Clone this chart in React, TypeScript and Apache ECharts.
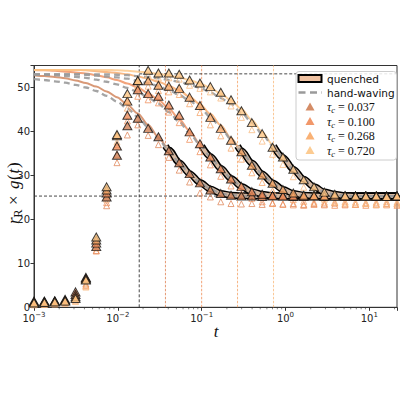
import React, { useEffect, useRef } from 'react';
import * as echarts from 'echarts';

// time grid (t values of the measured points)
const T = [0.001, 0.00133, 0.00177, 0.00235, 0.00313, 0.00416, 0.00553, 0.00735, 0.00977, 0.013,
  0.0173, 0.023, 0.0305, 0.0406, 0.054, 0.0718, 0.0954, 0.127, 0.169, 0.224,
  0.298, 0.397, 0.527, 0.701, 0.932, 1.24, 1.65, 2.19, 2.91, 3.87,
  5.14, 6.84, 9.09, 12.1, 16.1, 21.4];

const TAUS = [0.037, 0.1, 0.268, 0.72];
const TAU_LABELS = ['0.037', '0.100', '0.268', '0.720'];
const COLORS = ['#cf7f55', '#ef8c5a', '#f8a866', '#fcc585'];
const VLINE_COLORS = ['#e08a5e', '#f09462', '#f6a86e', '#f9bd84'];

// solid model lines
const LINE_037 = [52.8, 52.6, 52.4, 52.1, 51.6, 51.0, 50.2, 49.1, 47.8, 46.1, 44.1, 41.5, 38.7, 35.8, 32.9, 30.4, 28.4, 26.9, 25.9, 25.5, 25.4, 25.3, 25.3, 25.3, 25.3, 25.3, 25.3, 25.3, 25.3, 25.3, 25.3, 25.3, 25.3, 25.3, 25.3, 25.3];
const LINE_100 = [54.0, 53.9, 53.8, 53.6, 53.4, 53.2, 52.8, 52.3, 51.7, 50.9, 50.0, 48.7, 47.2, 45.2, 42.8, 40.1, 37.2, 34.3, 31.6, 29.3, 27.5, 26.3, 25.7, 25.4, 25.3, 25.3, 25.3, 25.3, 25.3, 25.3, 25.3, 25.3, 25.3, 25.3, 25.3, 25.3];
const LINE_268 = [54.0, 54.0, 54.0, 54.0, 54.0, 53.9, 53.7, 53.5, 53.3, 53.0, 52.5, 52.0, 51.3, 50.4, 49.3, 47.9, 46.2, 44.0, 41.4, 38.5, 35.6, 32.8, 30.3, 28.3, 26.8, 25.9, 25.5, 25.4, 25.3, 25.3, 25.3, 25.3, 25.3, 25.3, 25.3, 25.3];
const LINE_720 = [54.0, 54.0, 54.0, 54.0, 54.0, 54.0, 54.0, 54.0, 53.9, 53.8, 53.6, 53.4, 53.1, 52.7, 52.3, 51.7, 50.9, 49.9, 48.6, 47.1, 45.1, 42.6, 39.9, 37.0, 34.1, 31.4, 29.1, 27.4, 26.2, 25.7, 25.4, 25.3, 25.3, 25.3, 25.3, 25.3];

// hand-waving (gray dashed)
const HAND_037 = [51.9, 51.7, 51.4, 51.1, 50.6, 50.0, 49.2, 48.1, 46.8, 45.2, 43.3, 40.9, 38.3, 35.6, 32.9, 30.4, 28.4, 26.9, 25.9, 25.5, 25.4, 25.3, 25.3, 25.3, 25.3, 25.3, 25.3, 25.3, 25.3, 25.3, 25.3, 25.3, 25.3, 25.3, 25.3, 25.3];
const HAND_100 = [53.0, 52.9, 52.8, 52.6, 52.4, 52.2, 51.8, 51.3, 50.7, 49.9, 49.0, 47.7, 46.3, 44.4, 42.2, 39.6, 37.0, 34.3, 31.6, 29.3, 27.5, 26.3, 25.7, 25.4, 25.3, 25.3, 25.3, 25.3, 25.3, 25.3, 25.3, 25.3, 25.3, 25.3, 25.3, 25.3];
const HAND_268 = [53.0, 53.0, 53.0, 53.0, 53.0, 52.9, 52.7, 52.5, 52.3, 52.0, 51.5, 51.0, 50.3, 49.4, 48.3, 47.0, 45.4, 43.3, 40.9, 38.2, 35.5, 32.8, 30.3, 28.3, 26.8, 25.9, 25.5, 25.4, 25.3, 25.3, 25.3, 25.3, 25.3, 25.3, 25.3, 25.3];
const HAND_720 = [53.0, 53.0, 53.0, 53.0, 53.0, 53.0, 53.0, 53.0, 52.9, 52.8, 52.6, 52.4, 52.1, 51.7, 51.3, 50.7, 49.9, 48.9, 47.6, 46.2, 44.3, 42.0, 39.4, 36.8, 34.1, 31.4, 29.1, 27.4, 26.2, 25.7, 25.4, 25.3, 25.3, 25.3, 25.3, 25.3];

// measured (filled triangles)
const FILLED_037 = [1.4, 1.4, 1.5, 1.8, 3.5, 6.8, 13.8, 25.1, 34.6, 41.3, 43.0, 40.7, 38.8, 35.6, 32.9, 30.4, 28.3, 26.7, 25.9, 25.5, 25.3, 25.3, 25.2, 25.3, 25.3, 25.2, 25.3, 25.3, 25.2, 25.3, 25.3, 25.2, 25.3, 25.3, 25.3, 25.2];
const FILLED_100 = [1.2, 1.3, 1.4, 1.6, 2.9, 6.6, 14.6, 26.0, 36.7, 43.7, 49.5, 48.6, 48.0, 46.0, 43.7, 39.9, 37.2, 34.2, 31.5, 29.2, 27.5, 26.3, 25.7, 25.4, 25.3, 25.3, 25.2, 25.3, 25.3, 25.3, 25.2, 25.3, 25.3, 25.2, 25.3, 25.3];
const FILLED_268 = [1.1, 1.2, 1.3, 1.5, 2.4, 6.4, 15.3, 26.7, 39.0, 46.9, 51.5, 51.5, 50.5, 50.3, 49.8, 47.8, 45.9, 43.2, 40.7, 38.0, 35.4, 32.3, 30.1, 28.2, 26.8, 26.0, 25.5, 25.4, 25.3, 25.3, 25.2, 25.3, 25.3, 25.3, 25.2, 25.3];
const FILLED_720 = [1.0, 1.1, 1.2, 1.4, 2.0, 6.2, 16.0, 27.4, 39.3, 48.6, 51.6, 53.9, 53.3, 53.3, 53.0, 51.7, 51.0, 50.2, 48.9, 47.2, 44.7, 42.0, 39.5, 36.4, 34.2, 31.4, 29.0, 27.4, 26.2, 25.7, 25.4, 25.3, 25.3, 25.3, 25.2, 25.3];

// second estimator (hollow triangles)
const HOLLOW_037 = [0.8, 0.9, 1.0, 1.2, 2.4, 5.3, 12.9, 23.1, 32.9, 39.2, 41.5, 39.1, 37.0, 34.1, 31.2, 28.5, 26.0, 25.1, 24.0, 23.6, 23.5, 23.6, 23.4, 23.7, 23.5, 23.6, 23.4, 23.6, 23.5, 23.7, 23.5, 23.4, 23.6, 23.5, 23.6, 23.5];
const HOLLOW_100 = [0.7, 0.8, 0.9, 1.1, 2.0, 5.0, 12.8, 23.8, 34.8, 42.4, 48.0, 47.2, 46.5, 44.4, 42.0, 38.2, 35.4, 32.4, 29.8, 27.6, 25.9, 24.8, 24.0, 23.6, 23.4, 23.3, 23.2, 23.4, 23.3, 23.2, 23.3, 23.4, 23.2, 23.3, 23.3, 23.2];
const HOLLOW_268 = [0.6, 0.7, 0.8, 1.0, 1.6, 4.8, 13.5, 24.6, 37.0, 45.3, 50.2, 50.3, 49.3, 49.0, 48.4, 46.3, 44.3, 41.5, 39.0, 36.2, 33.7, 30.6, 28.4, 26.5, 25.2, 24.5, 24.1, 23.9, 23.9, 23.8, 24.0, 23.9, 23.8, 23.9, 24.0, 23.9];
const HOLLOW_720 = [0.6, 0.7, 0.8, 0.9, 1.3, 4.6, 14.2, 25.4, 37.6, 47.0, 50.4, 52.8, 52.2, 52.2, 51.9, 50.5, 49.8, 49.0, 47.6, 45.8, 43.2, 40.4, 37.8, 34.8, 32.5, 29.7, 27.3, 25.8, 24.6, 24.0, 23.7, 23.5, 23.6, 23.4, 23.5, 23.5];

const LINES = [LINE_037, LINE_100, LINE_268, LINE_720];
const HANDS = [HAND_037, HAND_100, HAND_268, HAND_720];
const FILLED = [FILLED_037, FILLED_100, FILLED_268, FILLED_720];
const HOLLOW = [HOLLOW_037, HOLLOW_100, HOLLOW_268, HOLLOW_720];

const QUENCH_START = 36.7;
const REF_T = 0.018;
const TOP_LEVEL = 53.1;
const PLATEAU = 25.3;
const X_MIN = 0.001;
const X_MAX = 21.4;
const Y_MAX = 55;
const Y_TICK = 10;
const MINOR_T = [0.002, 0.003, 0.004, 0.005, 0.006, 0.007, 0.008, 0.009, 0.02, 0.03, 0.04, 0.05, 0.06, 0.07, 0.08, 0.09, 0.2, 0.3, 0.4, 0.5, 0.6, 0.7, 0.8, 0.9, 2, 3, 4, 5, 6, 7, 8, 9, 20];

const MATH = "'Liberation Serif', 'DejaVu Serif', serif";
const SANS = "'DejaVu Sans', sans-serif";

function pairs(vals: number[]) {
  return T.map((t, i) => [t, vals[i]]);
}

export default function App() {
  const ref = useRef<HTMLDivElement>(null);
  useEffect(() => {
    if (!ref.current) return;
    const chart = echarts.init(ref.current, undefined, { renderer: 'svg' });
    const series: any[] = [];

    // reference dashed lines
    series.push({
      type: 'line', data: [[REF_T, 0], [REF_T, Y_MAX]], showSymbol: false, silent: true,
      lineStyle: { color: '#333', width: 0.9, type: [3, 2] }, z: 1,
    });
    TAUS.forEach((tau, i) => {
      series.push({
        type: 'line', data: [[tau, 0], [tau, Y_MAX]], showSymbol: false, silent: true,
        lineStyle: { color: VLINE_COLORS[i], width: 1, type: [2.5, 1.5], opacity: 0.85 }, z: 1,
      });
    });
    series.push({
      type: 'line', data: [[REF_T, TOP_LEVEL], [X_MAX, TOP_LEVEL]], showSymbol: false, silent: true,
      lineStyle: { color: '#333', width: 0.9, type: [3, 2] }, z: 1,
    });
    series.push({
      type: 'line', data: [[X_MIN, PLATEAU], [X_MAX, PLATEAU]], showSymbol: false, silent: true,
      lineStyle: { color: '#333', width: 0.9, type: [3, 2] }, z: 1,
    });

    // solid model lines
    LINES.forEach((vals, i) => {
      series.push({
        type: 'line', data: pairs(vals), showSymbol: false, smooth: 0.3, smoothMonotone: 'x', silent: true,
        lineStyle: { color: COLORS[i], width: 2, opacity: 0.8 }, z: 2,
      });
    });

    // quenched thick lines
    TAUS.forEach((tau, i) => {
      const q = [[tau, QUENCH_START], ...pairs(LINES[i]).filter((p) => p[0] > tau)];
      series.push({
        type: 'line', data: q, showSymbol: false, smooth: 0.3, smoothMonotone: 'x', silent: true,
        lineStyle: { color: '#000', width: 7 }, z: 3,
      });
      series.push({
        type: 'line', data: q, showSymbol: false, smooth: 0.3, smoothMonotone: 'x', silent: true,
        lineStyle: { color: '#d6b8a0', width: 4 }, z: 3,
      });
    });

    // hand-waving gray dashed
    HANDS.forEach((vals) => {
      series.push({
        type: 'line', data: pairs(vals), showSymbol: false, smooth: 0.3, smoothMonotone: 'x', silent: true,
        lineStyle: { color: '#9a9a9a', width: 2.3, type: [6, 4], opacity: 0.9 }, z: 4,
      });
    });

    // hollow triangles
    HOLLOW.forEach((vals, i) => {
      series.push({
        type: 'scatter', data: pairs(vals), symbol: 'triangle', symbolSize: [6, 6], silent: true,
        itemStyle: { color: 'rgba(0,0,0,0)', borderColor: VLINE_COLORS[i], borderWidth: 1 }, z: 5,
      });
    });
    // filled triangles
    FILLED.forEach((vals, i) => {
      series.push({
        type: 'scatter', data: pairs(vals), symbol: 'triangle', symbolSize: [9, 8], silent: true,
        itemStyle: { color: COLORS[i], borderColor: '#111', borderWidth: 1 }, z: 6,
      });
    });

    // minor ticks on log axis
    series.push({
      type: 'custom', silent: true, z: 7, clip: false,
      data: MINOR_T.filter((t) => t < X_MAX).map((t) => [t, 0]),
      renderItem: (params: any, api: any) => {
        const p = api.coord([api.value(0), 0]);
        return { type: 'line', shape: { x1: p[0], y1: p[1], x2: p[0], y2: p[1] + 2 }, style: { stroke: '#333', lineWidth: 0.6 } };
      },
    });

    const legendX = 296;
    const rowY = [78.5, 92.5, 107, 121.5, 136, 150.5];
    const graphic: any[] = [
      { type: 'rect', shape: { x: legendX, y: 71.5, width: 100.5, height: 88.5, r: 3 }, style: { fill: 'rgba(255,255,255,0.85)', stroke: '#cccccc', lineWidth: 1 }, z: 100 },
      { type: 'rect', shape: { x: 298.5, y: 75, width: 23, height: 7 }, style: { fill: '#eec0a0', stroke: '#000', lineWidth: 2 }, z: 101 },
      { type: 'text', style: { x: 327, y: rowY[0], text: 'quenched', font: `10.5px ${SANS}`, fill: '#111', verticalAlign: 'middle', align: 'left' }, z: 101 },
      { type: 'line', shape: { x1: 298.5, y1: rowY[1], x2: 322, y2: rowY[1] }, style: { stroke: '#9a9a9a', lineWidth: 2.3, lineDash: [7, 4.5] }, z: 101 },
      { type: 'text', style: { x: 327, y: rowY[1], text: 'hand-waving', font: `10.5px ${SANS}`, fill: '#111', verticalAlign: 'middle', align: 'left' }, z: 101 },
    ];
    TAU_LABELS.forEach((lab, i) => {
      const y = rowY[i + 2];
      graphic.push({ type: 'polygon', shape: { points: [[310, y - 4.5], [305.5, y + 3.5], [314.5, y + 3.5]] }, style: { fill: COLORS[i], opacity: 0.9 }, z: 101 });
      graphic.push({
        type: 'text', z: 101,
        style: {
          x: 327, y, align: 'left', verticalAlign: 'middle',
          text: `{i|τ}{s|c}{n| = ${lab}}`,
          rich: {
            i: { fontFamily: MATH, fontStyle: 'italic', fontSize: 12, fill: '#111' },
            s: { fontFamily: MATH, fontStyle: 'italic', fontSize: 8.5, fill: '#111', padding: [6, 0, 0, 0] },
            n: { fontFamily: MATH, fontSize: 12, fill: '#111' },
          },
        },
      });
    });
    // axis titles
    graphic.push({
      type: 'group', x: 13, y: 190, rotation: Math.PI / 2, z: 101,
      children: [
        { type: 'text', x: -34, y: 0, style: { text: 'r', font: `italic 17px ${MATH}`, fill: '#111', align: 'left', verticalAlign: 'middle' } },
        { type: 'text', x: -27.5, y: 5, style: { text: 'R', font: `12px ${MATH}`, fill: '#111', align: 'left', verticalAlign: 'middle' } },
        { type: 'text', x: -15, y: 0, style: { text: '×', font: `17px ${MATH}`, fill: '#111', align: 'left', verticalAlign: 'middle' } },
        { type: 'text', x: 1, y: 0, style: { text: 'g', font: `italic 17px ${MATH}`, fill: '#111', align: 'left', verticalAlign: 'middle' } },
        { type: 'text', x: 10, y: 0, style: { text: '(', font: `17px ${MATH}`, fill: '#111', align: 'left', verticalAlign: 'middle' } },
        { type: 'text', x: 16.5, y: 0, style: { text: 't', font: `italic 17px ${MATH}`, fill: '#111', align: 'left', verticalAlign: 'middle' } },
        { type: 'text', x: 22, y: 0, style: { text: ')', font: `17px ${MATH}`, fill: '#111', align: 'left', verticalAlign: 'middle' } },
      ],
    });
    graphic.push({
      type: 'text', z: 101,
      style: { x: 216, y: 331, text: 't', font: `italic 17px ${MATH}`, fill: '#111', align: 'center', verticalAlign: 'middle' },
    });

    chart.setOption({
      animation: false,
      grid: { left: 34, right: 1, top: 65.5, bottom: 92.7, show: true, borderColor: '#333', borderWidth: 1, backgroundColor: 'transparent' },
      xAxis: {
        type: 'log', logBase: 10, min: X_MIN, max: X_MAX,
        axisLine: { onZero: false, lineStyle: { color: '#333', width: 1 } },
        axisTick: { inside: false, length: 3.5, lineStyle: { color: '#333' } },
        splitLine: { show: false },
        axisLabel: {
          margin: 4, color: '#222',
          formatter: (v: number) => {
            const l = Math.log10(v);
            const e = Math.round(l);
            if (Math.abs(l - e) > 1e-6) return '';
            return `{b|10}{s|${e < 0 ? '−' + -e : e}}`;
          },
          rich: {
            b: { fontFamily: SANS, fontSize: 10, color: '#222' },
            s: { fontFamily: SANS, fontSize: 7, color: '#222', padding: [0, 0, 7, 0] },
          },
        },
      },
      yAxis: {
        type: 'value', min: 0, max: Y_MAX, interval: Y_TICK,
        axisLine: { show: true, lineStyle: { color: '#333', width: 1 } },
        axisTick: { show: true, inside: false, length: 3.5, lineStyle: { color: '#333' } },
        splitLine: { show: false },
        axisLabel: {
          margin: 4, color: '#222', fontFamily: SANS, fontSize: 10,
          formatter: (v: number) => (v % Y_TICK === 0 ? String(v) : ''),
        },
      },
      series,
      graphic,
    });
    return () => chart.dispose();
  }, []);
  return <div ref={ref} style={{ position: 'fixed', left: 0, top: 0, width: 400, height: 400, background: '#fff' }} />;
}
